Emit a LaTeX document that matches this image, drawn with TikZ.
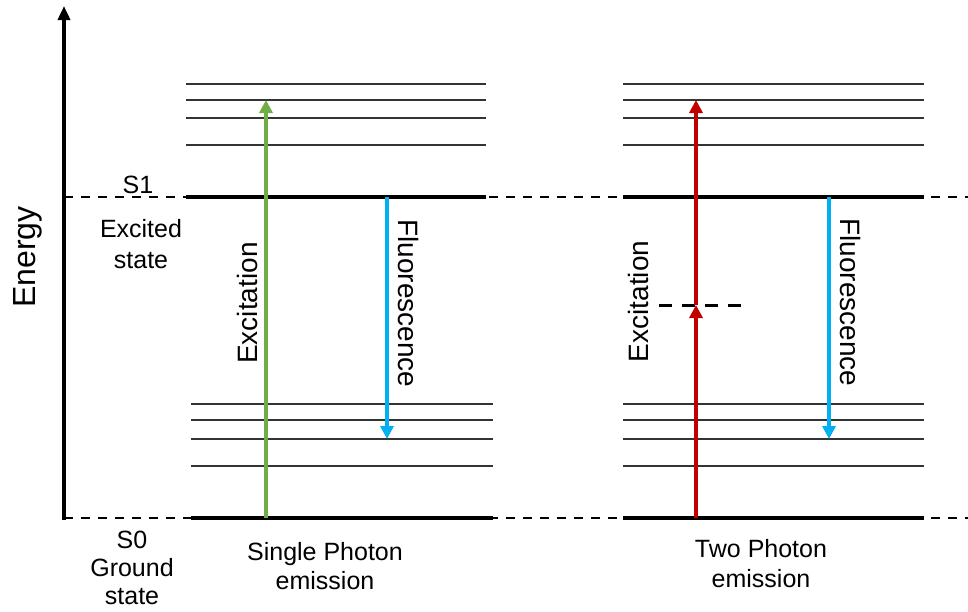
\documentclass[tikz,border=0pt]{standalone}
\usepackage{fontspec}
\setmainfont{Liberation Sans}
\usetikzlibrary{arrows.meta}
\definecolor{exgreen}{HTML}{70AD47}
\definecolor{flblue}{HTML}{00B0F0}
\definecolor{exred}{HTML}{C00000}
\begin{document}
\begin{tikzpicture}[x=1pt,y=-1pt,
  vib/.style={line width=1.5pt, draw=black!80},
  elec/.style={line width=4pt, draw=black},
  guide/.style={line width=1.5pt, dash pattern=on 9pt off 8pt},
  virt/.style={line width=3pt, dash pattern=on 13pt off 10pt},
  arr/.style={line width=3.5pt, -{Triangle[length=13pt,width=13pt]}},
  lbl/.style={font=\fontsize{25}{29}\selectfont, inner sep=0pt},
  rlbl/.style={font=\fontsize{28}{32}\selectfont, inner sep=0pt}]
\useasboundingbox (0,0) rectangle (968,611);
% guide lines
\coordinate (s1L) at (64,197);
\coordinate (s1R) at (968,197);
\coordinate (s0L) at (64,518);
\coordinate (s0R) at (968,518);
\draw[guide] (s1L) -- (s1R);
\draw[guide] (s0L) -- (s0R);
% axis
\coordinate (axB) at (64,520);
\coordinate (axT) at (64,6);
\draw[line width=3.5pt, -{Triangle[length=14pt,width=12pt]}] (axB) -- (axT);
% left diagram levels
\foreach \y in {84,100,118,145} {
  \coordinate (a) at (186,\y); \coordinate (b) at (486,\y);
  \draw[vib] (a) -- (b);
}
\foreach \y in {404,420,439,466} {
  \coordinate (a) at (191,\y); \coordinate (b) at (493,\y);
  \draw[vib] (a) -- (b);
}
\coordinate (L1a) at (186,197); \coordinate (L1b) at (486,197);
\coordinate (L0a) at (191,518); \coordinate (L0b) at (493,518);
\draw[elec] (L1a) -- (L1b);
\draw[elec] (L0a) -- (L0b);
% right diagram levels
\foreach \y in {84,100,118,145,404,420,439,466} {
  \coordinate (a) at (623,\y); \coordinate (b) at (924,\y);
  \draw[vib] (a) -- (b);
}
\coordinate (R1a) at (623,197); \coordinate (R1b) at (924,197);
\coordinate (R0a) at (623,518); \coordinate (R0b) at (924,518);
\draw[elec] (R1a) -- (R1b);
\draw[elec] (R0a) -- (R0b);
% virtual level
\coordinate (va) at (659,305); \coordinate (vb) at (745,305);
\draw[virt] (va) -- (vb);
% arrows
\coordinate (gB) at (266,518); \coordinate (gT) at (266,100);
\draw[arr, exgreen] (gB) -- (gT);
\coordinate (bT) at (387,197); \coordinate (bB) at (387,439);
\draw[arr, flblue] (bT) -- (bB);
\coordinate (rB) at (696,518); \coordinate (rM) at (696,305); \coordinate (rT) at (696,100);
\draw[arr, exred] (rB) -- (rM);
\draw[arr, exred] (rM) -- (rT);
\coordinate (b2T) at (829,197); \coordinate (b2B) at (829,439);
\draw[arr, flblue] (b2T) -- (b2B);
% labels
\node[font=\fontsize{32}{36}\selectfont, inner sep=0pt, rotate=90, anchor=base] (energy) at (35,257) {Energy};
\node[lbl, anchor=base] (s1) at (138,193) {S1};
\node[lbl, anchor=base] (exc1) at (141,237) {Excited};
\node[lbl, anchor=base] (exc2) at (141,268) {state};
\node[lbl, anchor=base] (s0) at (132,548) {S0};
\node[lbl, anchor=base] (gr1) at (132,576) {Ground};
\node[lbl, anchor=base] (gr2) at (132,604) {state};
\node[lbl, anchor=base] (sp1) at (325,560) {Single Photon};
\node[lbl, anchor=base] (sp2) at (325,589) {emission};
\node[lbl, anchor=base] (tp1) at (761,557) {Two Photon};
\node[lbl, anchor=base] (tp2) at (761,587) {emission};
\node[rlbl, rotate=90, anchor=base] (ex1) at (257,303) {Excitation};
\node[rlbl, rotate=-90, anchor=base] (fl1) at (398,303.5) {Fluorescence};
\node[rlbl, rotate=90, anchor=base] (ex2) at (648,301.5) {Excitation};
\node[rlbl, rotate=-90, anchor=base] (fl2) at (840,302.5) {Fluorescence};
\end{tikzpicture}
\end{document}
